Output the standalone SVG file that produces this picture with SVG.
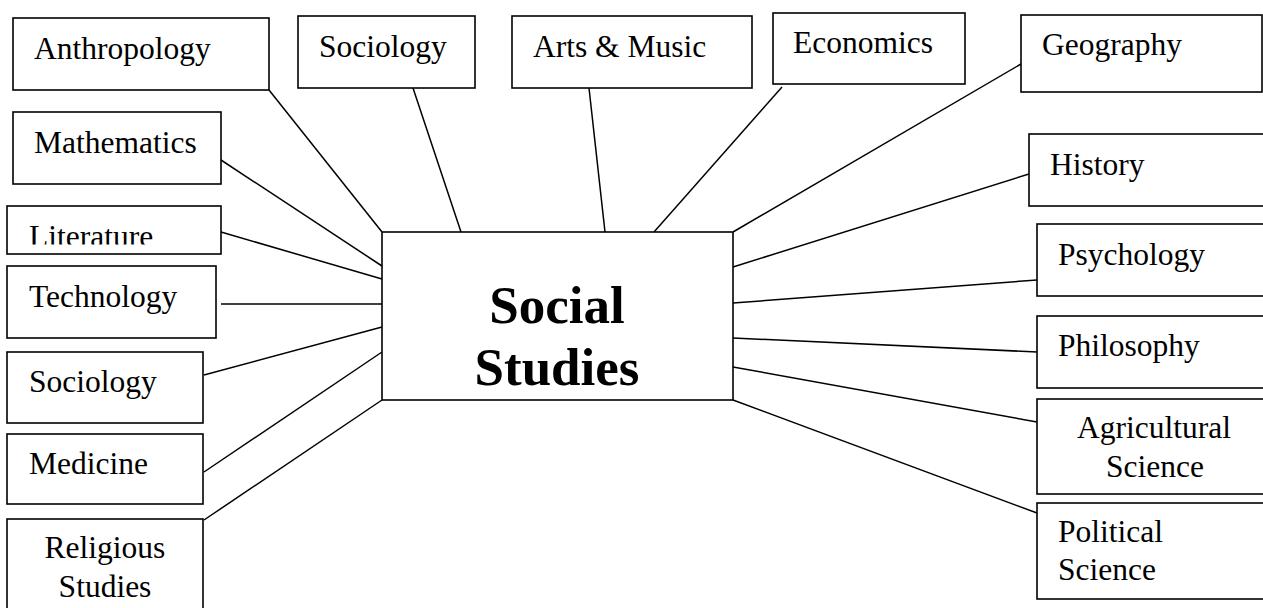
<svg xmlns="http://www.w3.org/2000/svg" width="1263" height="608" viewBox="0 0 1263 608">
<style>
rect{fill:#fff;stroke:#000;stroke-width:1.6}
text{font-family:"Liberation Serif","Times New Roman",serif;font-size:31.5px;fill:#000}
.c{text-anchor:middle}
.big{font-size:53px;font-weight:bold}
#connectors line{stroke:#000;stroke-width:1.5}
</style>
<defs><clipPath id="litclip"><rect x="0" y="200" width="230" height="44.5"/></clipPath></defs>
<rect x="0" y="0" width="1263" height="608" style="stroke:none"/>
<g id="connectors">
<line x1="269" y1="90" x2="382" y2="232"/>
<line x1="221" y1="160" x2="382" y2="266"/>
<line x1="221" y1="232" x2="382" y2="279"/>
<line x1="221" y1="304" x2="382" y2="304"/>
<line x1="204" y1="375" x2="382" y2="327"/>
<line x1="204" y1="472" x2="382" y2="352"/>
<line x1="204" y1="520" x2="382" y2="400"/>
<line x1="413" y1="88" x2="461" y2="232"/>
<line x1="589" y1="88" x2="605" y2="232"/>
<line x1="782" y1="87" x2="654" y2="232"/>
<line x1="1021" y1="64" x2="733" y2="232"/>
<line x1="1029" y1="174" x2="733" y2="267"/>
<line x1="1037" y1="280" x2="733" y2="303"/>
<line x1="1037" y1="352" x2="733" y2="338"/>
<line x1="1037" y1="422" x2="733" y2="367"/>
<line x1="1037" y1="513" x2="733" y2="400"/>
</g>
<g id="center"><rect x="382" y="232" width="351" height="168"/><text class="c big" x="557" y="323">Social</text><text class="c big" x="557" y="385">Studies</text></g>
<g id="anthropology"><rect x="13" y="18" width="256" height="72"/><text x="34" y="59">Anthropology</text></g>
<g id="mathematics"><rect x="13" y="112" width="208" height="72"/><text x="34" y="153">Mathematics</text></g>
<g id="literature"><rect x="7" y="206" width="214" height="48"/><text x="29" y="247" clip-path="url(#litclip)">Literature</text></g>
<g id="technology"><rect x="7" y="266" width="209" height="72"/><text x="29" y="307">Technology</text></g>
<g id="sociology-left"><rect x="7" y="352" width="196" height="71"/><text x="29" y="392">Sociology</text></g>
<g id="medicine"><rect x="7" y="434" width="196" height="70"/><text x="29" y="474">Medicine</text></g>
<g id="religious"><rect x="7" y="519" width="196" height="100"/><text class="c" x="105" y="558">Religious</text><text class="c" x="105" y="597">Studies</text></g>
<g id="sociology-top"><rect x="298" y="16" width="177" height="72"/><text x="319" y="57">Sociology</text></g>
<g id="arts"><rect x="512" y="16" width="240" height="72"/><text x="533" y="57">Arts &amp; Music</text></g>
<g id="economics"><rect x="773" y="13" width="192" height="71"/><text x="793" y="53">Economics</text></g>
<g id="geography"><rect x="1021" y="15" width="241" height="77"/><text x="1042" y="55">Geography</text></g>
<g id="history"><rect x="1029" y="134" width="250" height="72"/><text x="1050" y="175">History</text></g>
<g id="psychology"><rect x="1037" y="224" width="250" height="72"/><text x="1058" y="265">Psychology</text></g>
<g id="philosophy"><rect x="1037" y="316" width="250" height="72"/><text x="1058" y="356">Philosophy</text></g>
<g id="agricultural"><rect x="1037" y="399" width="250" height="95"/><text class="c" x="1154" y="438">Agricultural</text><text class="c" x="1155" y="477">Science</text></g>
<g id="political"><rect x="1037" y="503" width="250" height="96"/><text x="1058" y="542">Political</text><text x="1058" y="580">Science</text></g>
</svg>
